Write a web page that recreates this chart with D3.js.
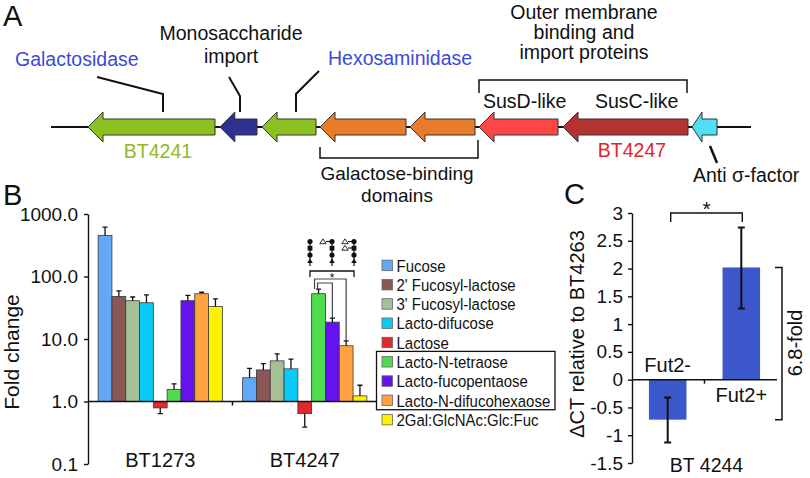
<!DOCTYPE html>
<html><head><meta charset="utf-8">
<script src="https://cdn.jsdelivr.net/npm/d3@7"></script>
<style>
body{margin:0;background:#fff}
svg{display:block}
text{font-family:"Liberation Sans",Arial,Helvetica,sans-serif;fill:#111}
</style>
</head><body>
<svg id="fig" width="810" height="478"></svg>
<script>
// ================= DATA =================
// Panel A: gene locus (locus units, genes transcribed leftwards: start = arrow tip)
const geneNames   = ["BT4241","monosaccharide import","hexosaminidase","galactose-binding 1","galactose-binding 2","SusD-like","SusC-like (BT4247)","anti-sigma"];
const geneStart   = [37, 169, 211, 269, 359, 428, 512, 641];
const geneEnd     = [164, 206, 265, 355, 424, 507, 637, 666];
const geneColors  = ["#8cc21f","#2e3192","#8cc21f","#e87b2c","#e87b2c","#ff4646","#b53232","#4fe0f5"];
const locusRange  = [0, 700];

// Panel B: fold change (log scale)
const categoriesB = ["BT1273","BT4247"];
const sugars = ["Fucose","2' Fucosyl-lactose","3' Fucosyl-lactose","Lacto-difucose","Lactose",
                "Lacto-N-tetraose","Lacto-fucopentaose","Lacto-N-difucohexaose","2Gal:GlcNAc:Glc:Fuc"];
const sugarColors = ["#62a8f7","#8b5656","#a6bf96","#08cbf6","#e0282e","#4fdc4f","#6512ef","#ffa23f","#fff000"];
const foldBT1273 = [453, 48, 41, 38, 0.79, 1.56, 41, 53, 33];
const errBT1273  = [615, 59, 47, 51, 0.64, 1.92, 50, 56, 44];
const foldBT4247 = [2.4, 3.2, 4.47, 3.33, 0.64, 53, 18.6, 7.8, 1.23];
const errBT4247  = [3.4, 4.05, 5.8, 4.75, 0.39, 63, 21.5, 9.36, 1.82];
const yTicksB    = [0.1, 1, 10, 100, 1000];
const boxedSugars = ["Lacto-N-tetraose","Lacto-fucopentaose","Lacto-N-difucohexaose"];
const glycanFucoses = [0, 1, 2];   // LNT, LFP, LNDFH

// Panel C: delta CT
const categoryC = ["BT 4244"];
const groupsC   = ["Fut2-","Fut2+"];
const dCT       = [-0.72, 2.02];
const dCTlow    = [-1.13, 1.28];
const dCThigh   = [-0.32, 2.74];
const yTicksC   = [3, 2.5, 2, 1.5, 1, 0.5, 0, -0.5, -1, -1.5];

// ================= DRAW =================
const svg = d3.select("#fig");
const FONT = 19.5;

// ---------- Panel A ----------
const A = svg.append("g");
const xA = d3.scaleLinear().domain(locusRange).range([51, 751]);
const yc = 127;
A.append("text").attr("x",3).attr("y",26).attr("font-size",29).text("A");
A.append("line").attr("x1",xA(locusRange[0])).attr("x2",xA(locusRange[1]))
  .attr("y1",yc).attr("y2",yc).attr("stroke","#111").attr("stroke-width",2);
function arrowPath(x0,x1){
  const hl = Math.min(15,(x1-x0)*0.4), hh=15, bh=8;
  return `M${x0},${yc} L${x0+hl},${yc-hh} L${x0+hl},${yc-bh} L${x1},${yc-bh} L${x1},${yc+bh} L${x0+hl},${yc+bh} L${x0+hl},${yc+hh} Z`;
}
A.selectAll("path.gene").data(geneNames).join("path").attr("class","gene")
  .attr("d",(d,i)=>arrowPath(xA(geneStart[i]),xA(geneEnd[i])))
  .attr("fill",(d,i)=>geneColors[i]).attr("stroke","#333").attr("stroke-width",1);

function txt(g,x,y,s,opts={}){
  const t=g.append("text").attr("x",x).attr("y",y).attr("font-size",opts.size||FONT).text(s);
  if(opts.anchor) t.attr("text-anchor",opts.anchor);
  if(opts.fill) t.style("fill",opts.fill);
  return t;
}
const ln = (g,pts,w=2)=>g.append("path").attr("d",d3.line()(pts)).attr("fill","none").attr("stroke","#111").attr("stroke-width",w);

txt(A,15,66,"Galactosidase",{fill:"#3b4ad8"});
ln(A,[[97,77],[163,94],[163,112]]);
txt(A,231,40,"Monosaccharide",{anchor:"middle"});
txt(A,231,63,"import",{anchor:"middle"});
ln(A,[[229,77],[240,96],[240,112]]);
txt(A,328,65,"Hexosaminidase",{fill:"#3b4ad8"});
ln(A,[[319,71],[296,94],[296,112]]);
txt(A,584,19,"Outer membrane",{anchor:"middle"});
txt(A,584,39,"binding and",{anchor:"middle"});
txt(A,584,59,"import proteins",{anchor:"middle"});
ln(A,[[479,93],[479,80],[687,80],[687,93]],1.5);
txt(A,483,108,"SusD-like");
txt(A,595,108,"SusC-like");
txt(A,158,158,"BT4241",{anchor:"middle",fill:"#8db92b"});
txt(A,632,157,"BT4247",{anchor:"middle",fill:"#e3232a"});
ln(A,[[320,147],[320,158],[478,158],[478,140]],1.5);
txt(A,397,180,"Galactose-binding",{anchor:"middle",size:19});
txt(A,397,202,"domains",{anchor:"middle",size:19});
ln(A,[[710,146],[717,163]],2.5);
txt(A,693,182,"Anti \u03c3-factor");

// ---------- Panel B ----------
const B = svg.append("g");
B.append("text").attr("x",3).attr("y",205).attr("font-size",29).text("B");
const yB = d3.scaleLog().domain([0.1,1000]).range([464,214]);
const xB = d3.scaleBand().domain(categoriesB).range([88,377]);
const xBi = d3.scaleBand().domain(sugars).range([0,xB.bandwidth()]).paddingOuter(0.735);
const axB = d3.axisLeft(yB).tickValues(yTicksB).tickFormat(d3.format(".1f")).tickSize(4).tickSizeOuter(0).tickPadding(6);
const gAxB = B.append("g").attr("transform","translate(88,0)").call(axB);
gAxB.selectAll("text").attr("font-size",19).style("fill","#111");
gAxB.selectAll("path,line").attr("stroke","#111").attr("stroke-width",1.4);

const seriesB = [foldBT1273, foldBT4247], errsB = [errBT1273, errBT4247];
categoriesB.forEach((cat,ci)=>{
  const g = B.append("g").attr("transform",`translate(${xB(cat)},0)`);
  const vals = seriesB[ci], errs = errsB[ci];
  g.selectAll("rect").data(sugars).join("rect")
    .attr("x",d=>xBi(d)).attr("width",xBi.bandwidth())
    .attr("y",(d,i)=>Math.min(yB(1),yB(vals[i])))
    .attr("height",(d,i)=>Math.abs(yB(vals[i])-yB(1)))
    .attr("fill",(d,i)=>sugarColors[i]).attr("stroke","#3a3a3a").attr("stroke-width",0.8);
  g.selectAll("path.err").data(sugars).join("path").attr("class","err")
    .attr("d",(d,i)=>{const cx=xBi(d)+xBi.bandwidth()/2, y0=yB(vals[i]), y1=yB(errs[i]);
      return `M${cx},${y0} V${y1} M${cx-2.5},${y1} H${cx+2.5}`;})
    .attr("stroke","#111").attr("stroke-width",1.3).attr("fill","none");
  txt(B,xB(cat)+xB.bandwidth()/2,467,cat,{anchor:"middle",size:20});
});
// baseline at 1.0 and category separator tick
B.append("line").attr("x1",88).attr("x2",377).attr("y1",yB(1)).attr("y2",yB(1)).attr("stroke","#111").attr("stroke-width",1.5);
B.append("line").attr("x1",xB(categoriesB[1])).attr("x2",xB(categoriesB[1])).attr("y1",yB(1)).attr("y2",yB(1)+4).attr("stroke","#111").attr("stroke-width",1.5);
// y label
B.append("text").attr("transform","translate(19,352) rotate(-90)").attr("text-anchor","middle").attr("font-size",21).text("Fold change");

// significance annotation on BT4247
const g2x = xB("BT4247");
const cxB = s => g2x + xBi(s) + xBi.bandwidth()/2;
const iLNT = sugars.indexOf("Lacto-N-tetraose"), iLFP = sugars.indexOf("Lacto-fucopentaose"), iLND = sugars.indexOf("Lacto-N-difucohexaose");
const topLNT = yB(errBT4247[iLNT]);
const brk = B.append("g").attr("fill","none").attr("stroke","#444").attr("stroke-width",1.2);
brk.append("path").attr("d",`M${cxB(sugars[iLNT])-4},${topLNT} V279 H${cxB(sugars[iLND])} V${yB(errBT4247[iLND])}`);
brk.append("path").attr("d",`M${cxB(sugars[iLNT])-1},${topLNT} V283 H${cxB(sugars[iLFP])} V${yB(errBT4247[iLFP])}`);
// big bracket with star
const chainX = [g2x+77.5, g2x+99.5, g2x+121.5];
ln(B,[[chainX[0],277],[chainX[0],271],[chainX[2],271],[chainX[2],277]],1.3);
txt(B,chainX[1],282,"*",{anchor:"middle",size:12});
// glycan chains
glycanFucoses.forEach((nf,k)=>{
  const x = chainX[k], g = B.append("g");
  g.append("line").attr("x1",x).attr("x2",x).attr("y1",241).attr("y2",266).attr("stroke","#111").attr("stroke-width",1.2);
  g.append("circle").attr("cx",x).attr("cy",241.5).attr("r",2.6).attr("fill","#111");
  g.append("rect").attr("x",x-2.4).attr("y",245.8).attr("width",4.8).attr("height",4.8).attr("fill","#111");
  g.append("circle").attr("cx",x).attr("cy",255).attr("r",2.6).attr("fill","#111");
  g.append("path").attr("d",`M${x},258.5 L${x-2.8},263 L${x+2.8},263 Z`).attr("fill","#111");
  for(let f=0;f<nf;f++){
    const fy = 241.5 + f*6.5, tx = x-9;
    g.append("line").attr("x1",tx+3).attr("x2",x).attr("y1",fy).attr("y2",fy).attr("stroke","#111").attr("stroke-width",1.1);
    g.append("path").attr("d",`M${tx},${fy-2.6} L${tx-3.2},${fy+2.2} L${tx+3.2},${fy+2.2} Z`).attr("fill","#fff").attr("stroke","#111").attr("stroke-width",0.9);
  }
});

// legend
const L = B.append("g");
const legY = d3.scaleBand().domain(sugars).range([255.5,429]);
sugars.forEach((s,i)=>{
  const cy = legY(s)+legY.bandwidth()/2;
  L.append("rect").attr("x",382).attr("y",cy-5).attr("width",10.5).attr("height",10.5)
    .attr("fill",sugarColors[i]).attr("stroke","#666").attr("stroke-width",0.8);
  L.append("text").attr("transform",`translate(396.5,${cy+6.5}) scale(0.88,1)`).attr("font-size",17).text(s);
});
const b0 = legY(boxedSugars[0]), b1 = legY(boxedSugars[boxedSugars.length-1])+legY.bandwidth();
L.append("rect").attr("x",376.5).attr("y",b0-0.5).attr("width",178.5).attr("height",b1-b0+0.5)
  .attr("fill","none").attr("stroke","#111").attr("stroke-width",1.3);

// ---------- Panel C ----------
const C = svg.append("g");
C.append("text").attr("x",564).attr("y",204).attr("font-size",29).text("C");
const yC = d3.scaleLinear().domain([-1.5,3]).range([463,213]);
const xC = d3.scaleBand().domain(categoryC).range([632,777]);
const xCi = d3.scaleBand().domain(groupsC).range([0,xC.bandwidth()]).paddingInner(0.49).paddingOuter(0.23);
const axC = d3.axisLeft(yC).tickValues(yTicksC).tickFormat(d=>String(d)).tickSize(4).tickSizeOuter(0).tickPadding(5);
const gAxC = C.append("g").attr("transform","translate(632,0)").call(axC);
gAxC.selectAll("text").attr("font-size",19).style("fill","#111");
gAxC.selectAll("path,line").attr("stroke","#111").attr("stroke-width",1.4);
const gc = C.append("g").attr("transform",`translate(${xC(categoryC[0])},0)`);
gc.selectAll("rect").data(groupsC).join("rect")
  .attr("x",d=>xCi(d)).attr("width",xCi.bandwidth())
  .attr("y",(d,i)=>Math.min(yC(0),yC(dCT[i]))).attr("height",(d,i)=>Math.abs(yC(dCT[i])-yC(0)))
  .attr("fill","#3b57c9");
gc.selectAll("path.err").data(groupsC).join("path").attr("class","err")
  .attr("d",(d,i)=>{const cx=xCi(d)+xCi.bandwidth()/2, a=yC(dCTlow[i]), b=yC(dCThigh[i]);
    return `M${cx},${a} V${b} M${cx-3.5},${a} H${cx+3.5} M${cx-3.5},${b} H${cx+3.5}`;})
  .attr("stroke","#111").attr("stroke-width",2).attr("fill","none");
C.append("line").attr("x1",632).attr("x2",777).attr("y1",yC(0)).attr("y2",yC(0)).attr("stroke","#111").attr("stroke-width",1.5);
const midC = xC(categoryC[0])+xC.bandwidth()/2;
C.append("line").attr("x1",midC).attr("x2",midC).attr("y1",yC(0)).attr("y2",yC(0)+4).attr("stroke","#111").attr("stroke-width",1.5);
// group labels
const cxC = i => xC(categoryC[0]) + xCi(groupsC[i]) + xCi.bandwidth()/2;
txt(C,cxC(0),372,groupsC[0],{anchor:"middle",size:20});
txt(C,cxC(1),402,groupsC[1],{anchor:"middle",size:20});
txt(C,midC+2,472,categoryC[0],{anchor:"middle",size:19.5});
// y label
C.append("text").attr("transform","translate(584,334) rotate(-90)").attr("text-anchor","middle").attr("font-size",20).text("\u0394CT relative to BT4263");
// significance bracket
ln(C,[[cxC(0)+3,222],[cxC(0)+3,213],[cxC(1)+1,213],[cxC(1)+1,222]],1.4);
txt(C,(cxC(0)+cxC(1))/2+2,216,"*",{anchor:"middle",size:21});
// fold bracket
ln(C,[[775,yC(dCT[1])],[782,yC(dCT[1])],[782,yC(dCT[0])],[775,yC(dCT[0])]],1.5);
C.append("text").attr("transform","translate(802,343) rotate(-90)").attr("text-anchor","middle").attr("font-size",20).text("6.8-fold");
</script>
</body></html>
